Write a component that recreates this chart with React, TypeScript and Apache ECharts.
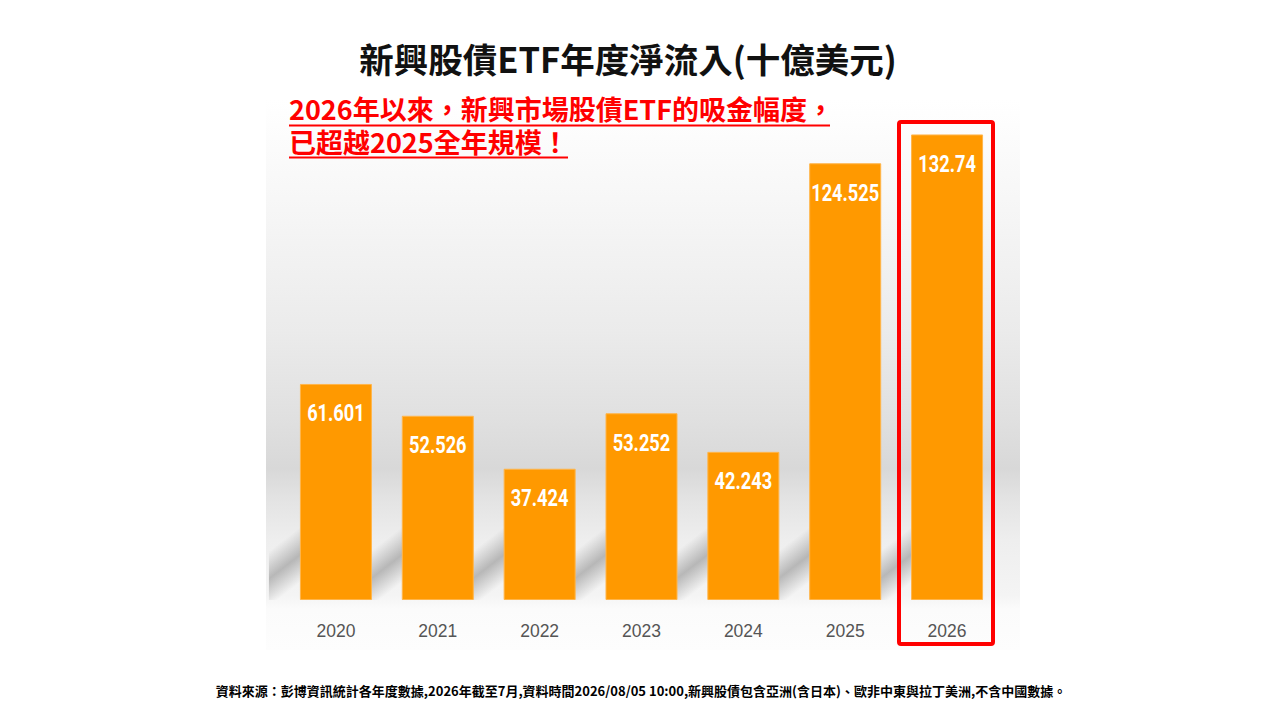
import React, { useEffect, useRef } from "react";
import * as echarts from "echarts";

const years = ["2020", "2021", "2022", "2023", "2024", "2025", "2026"];
const inflows = [61.601, 52.526, 37.424, 53.252, 42.243, 124.525, 132.74];

const titleText = "新興股債ETF年度淨流入(十億美元)";
const noteLine1 = "2026年以來，新興市場股債ETF的吸金幅度，";
const noteLine2 = "已超越2025全年規模！";
const footerText =
  "資料來源：彭博資訊統計各年度數據,2026年截至7月,資料時間2026/08/05 10:00,新興股債包含亞洲(含日本)、歐非中東與拉丁美洲,不含中國數據。";

const CJK = '"Noto Sans CJK TC", "Noto Sans CJK SC", sans-serif';

export default function App() {
  const ref = useRef<HTMLDivElement>(null);

  useEffect(() => {
    if (!ref.current) return;
    const chart = echarts.init(ref.current, undefined, { renderer: "svg" });
    const option: any = {
      animation: false,
      backgroundColor: "#ffffff",
      grid: { left: 285, right: 282, top: 109, bottom: 120, containLabel: false },
      xAxis: {
        type: "category",
        data: years,
        axisLine: { show: false },
        axisTick: { show: false },
        axisLabel: {
          color: "#555555",
          fontSize: 17.5,
          fontFamily: '"Liberation Sans", Arial, sans-serif',
          margin: 22,
        },
        z: 5,
      },
      yAxis: {
        type: "value",
        min: 0,
        max: 140,
        show: false,
        splitLine: { show: false },
      },
      graphic: [
        {
          type: "rect",
          z: -10,
          silent: true,
          shape: { x: 266, y: 100, width: 754, height: 550 },
          style: {
            fill: new echarts.graphic.LinearGradient(0, 0, 0, 1, [
              { offset: 0, color: "#ffffff" },
              { offset: 0.18, color: "#f7f7f7" },
              { offset: 0.42, color: "#ebebeb" },
              { offset: 0.58, color: "#e0e0e0" },
              { offset: 0.67, color: "#d8d8d8" },
              { offset: 0.73, color: "#e4e4e4" },
              { offset: 0.8, color: "#eeeeee" },
              { offset: 0.9, color: "#f4f4f4" },
              { offset: 0.925, color: "#fbfbfb" },
              { offset: 1, color: "#fdfdfd" },
            ]),
          },
        },
        {
          type: "text",
          z: 20,
          style: {
            text: titleText,
            x: 628,
            y: 58,
            align: "center",
            verticalAlign: "middle",
            fontSize: 34.5,
            lineHeight: 36,
            fontWeight: "bold",
            fontFamily: CJK,
            fill: "#111111",
          },
        },
        {
          type: "text",
          z: 20,
          style: {
            text: noteLine1 + "\n" + noteLine2,
            x: 289,
            y: 92,
            align: "left",
            verticalAlign: "top",
            fontSize: 27,
            lineHeight: 33,
            fontWeight: "bold",
            fontFamily: CJK,
            fill: "#ff0000",
          },
        },
        {
          type: "line",
          z: 20,
          shape: { x1: 289, y1: 125.5, x2: 830, y2: 125.5 },
          style: { stroke: "#ff0000", lineWidth: 2 },
        },
        {
          type: "line",
          z: 20,
          shape: { x1: 289, y1: 157.5, x2: 568, y2: 157.5 },
          style: { stroke: "#ff0000", lineWidth: 2 },
        },
        {
          type: "rect",
          z: 30,
          shape: { x: 899, y: 122, width: 94, height: 522, r: 2 },
          style: { fill: "none", stroke: "#ff0000", lineWidth: 4 },
        },
        {
          type: "text",
          z: 20,
          style: {
            text: footerText,
            x: 641,
            y: 690,
            align: "center",
            verticalAlign: "middle",
            fontSize: 13,
            fontWeight: "bold",
            fontFamily: CJK,
            fill: "#000000",
          },
        },
      ],
      series: [
        {
          type: "custom",
          z: 1,
          silent: true,
          data: inflows.map((v, i) => [i, v]),
          renderItem: (params: any, api: any) => {
            const base = api.coord([api.value(0), 0]);
            const xL = base[0] - 36;
            const y0 = base[1];
            const cx = xL - 15;
            const cy = y0 - 33.5;
            const nx = 0.61;
            const ny = 0.79;
            const hw = 22;
            return {
              type: "polygon",
              shape: {
                points: [
                  [xL - 31, y0 - 70],
                  [xL + 1, y0 - 95],
                  [xL + 1, y0],
                  [xL - 31, y0],
                ],
              },
              style: {
                fill: new echarts.graphic.LinearGradient(
                  cx - hw * nx,
                  cy - hw * ny,
                  cx + hw * nx,
                  cy + hw * ny,
                  [
                    { offset: 0, color: "rgba(0,0,0,0)" },
                    { offset: 0.5, color: "rgba(0,0,0,0.24)" },
                    { offset: 1, color: "rgba(0,0,0,0)" },
                  ],
                  true
                ),
              },
            };
          },
        },
        {
          type: "bar",
          z: 3,
          data: inflows,
          barWidth: 72,
          itemStyle: { color: "#ff9900", borderColor: "#ffb54a", borderWidth: 1 },
        },
        {
          type: "custom",
          z: 6,
          silent: true,
          data: inflows.map((v, i) => [i, v]),
          renderItem: (params: any, api: any) => {
            const top = api.coord([api.value(0), api.value(1)]);
            return {
              type: "text",
              x: top[0],
              y: top[1] + 17,
              scaleX: 0.76,
              style: {
                text: String(inflows[params.dataIndex]),
                x: 0,
                y: 0,
                align: "center",
                verticalAlign: "top",
                fontSize: 24,
                fontWeight: "bold",
                fontFamily: 'Roboto, "Liberation Sans", sans-serif',
                fill: "#ffffff",
              },
            };
          },
        },
      ],
    };
    chart.setOption(option);
    return () => chart.dispose();
  }, []);

  return (
    <div
      ref={ref}
      style={{ position: "absolute", left: 0, top: 0, width: 1280, height: 720, background: "#fff" }}
    />
  );
}
